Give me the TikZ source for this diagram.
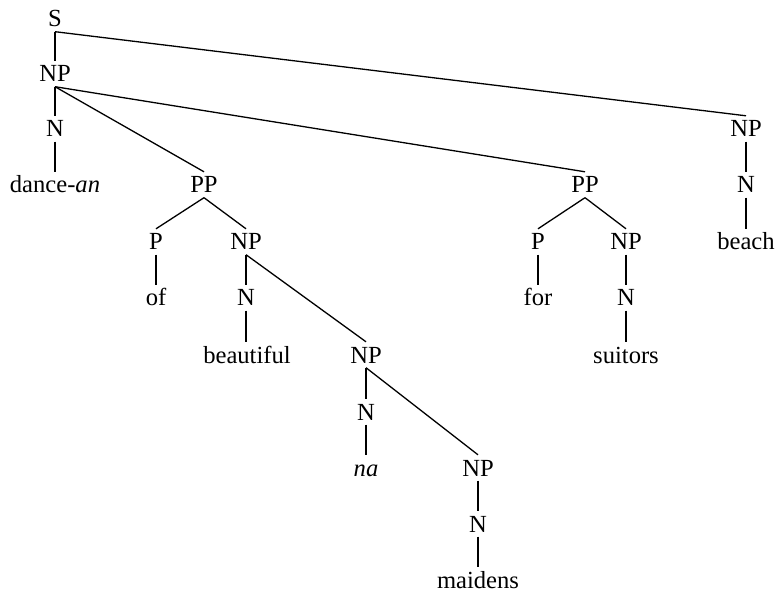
\documentclass[tikz,border=0pt]{standalone}
\usepackage{fontspec}
\setmainfont{Liberation Serif}
\begin{document}
\begin{tikzpicture}[x=1pt,y=-1pt,
  lab/.style={anchor=base,inner xsep=0pt,inner ysep=4.5pt,text height=16.5pt,text depth=0pt,font=\fontsize{24.6}{28}\selectfont},
  br/.style={line width=1.3pt,black}]
\useasboundingbox (0,0) rectangle (776,593);
\node[lab] (S) at (55,27) {S};
\node[lab] (NP0) at (55,82) {NP};
\node[lab] (N0) at (55,137) {N};
\node[lab] (dance) at (55,193) {dance-\textit{an}};
\node[lab] (PP1) at (204,193) {PP};
\node[lab] (P1) at (156,250) {P};
\node[lab] (NP1) at (246,250) {NP};
\node[lab] (of) at (156,306) {of};
\node[lab] (N1) at (246,306) {N};
\node[lab] (beau) at (247,363) {beautiful};
\node[lab] (NP2) at (366,363) {NP};
\node[lab] (N2) at (366,420) {N};
\node[lab] (na) at (366,476) {\textit{na}};
\node[lab] (NP3) at (478,476) {NP};
\node[lab] (N3) at (478,532) {N};
\node[lab] (maid) at (478,588) {maidens};
\node[lab] (PP2) at (585,193) {PP};
\node[lab] (P2) at (538,250) {P};
\node[lab] (NP4) at (626,250) {NP};
\node[lab] (for) at (538,306) {for};
\node[lab] (N4) at (626,306) {N};
\node[lab] (suit) at (626,363) {suitors};
\node[lab] (NP5) at (746,137) {NP};
\node[lab] (N5) at (746,193) {N};
\node[lab] (beach) at (746,250) {beach};
\foreach \a/\b in {S/NP0,S/NP5,NP0/N0,N0/dance,NP0/PP1,NP0/PP2,PP1/P1,PP1/NP1,P1/of,NP1/N1,NP1/NP2,NP2/N2,N2/na,NP2/NP3,NP3/N3,N3/maid,PP2/P2,PP2/NP4,P2/for,NP4/N4,N4/suit,NP5/N5,N5/beach}
  \draw[br] (\a.south) -- (\b.north);
\draw[br] (N1.south) -- (N1.south |- beau.north);
\end{tikzpicture}
\end{document}
